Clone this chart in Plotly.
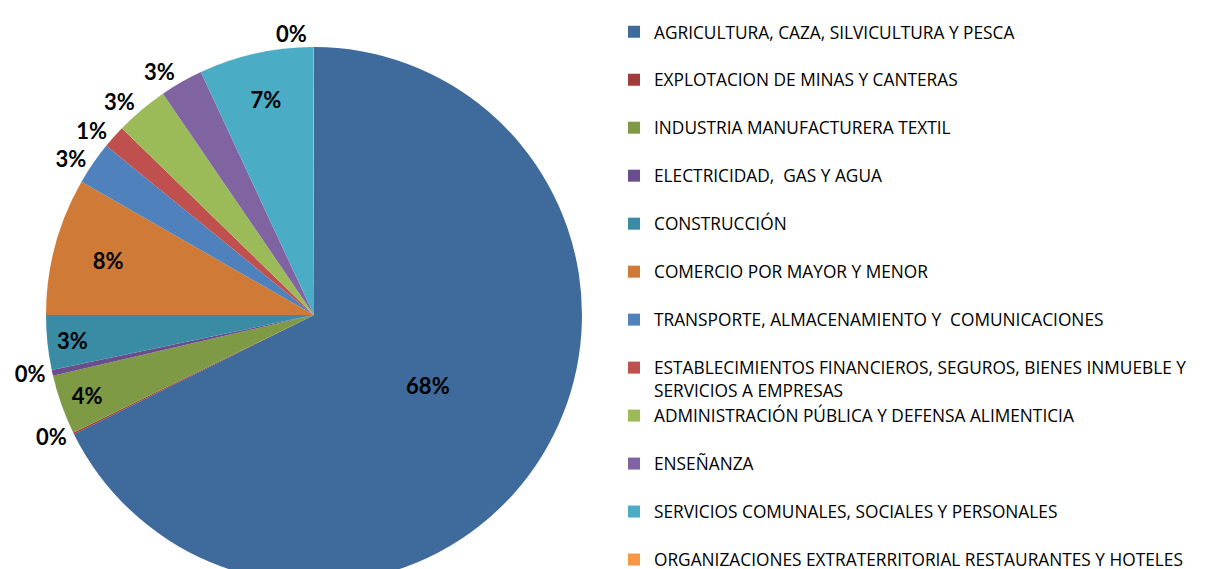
import plotly.graph_objects as go

categories = [
    "AGRICULTURA, CAZA, SILVICULTURA Y PESCA",
    "EXPLOTACION DE MINAS Y CANTERAS",
    "INDUSTRIA MANUFACTURERA TEXTIL",
    "ELECTRICIDAD,  GAS Y AGUA",
    "CONSTRUCCIÓN",
    "COMERCIO POR MAYOR Y MENOR",
    "TRANSPORTE, ALMACENAMIENTO Y  COMUNICACIONES",
    "ESTABLECIMIENTOS FINANCIEROS, SEGUROS, BIENES INMUEBLE Y<br>SERVICIOS A EMPRESAS",
    "ADMINISTRACIÓN PÚBLICA Y DEFENSA ALIMENTICIA",
    "ENSEÑANZA",
    "SERVICIOS COMUNALES, SOCIALES Y PERSONALES",
    "ORGANIZACIONES EXTRATERRITORIAL RESTAURANTES Y HOTELES",
]
values = [67.8, 0.1, 3.6, 0.35, 3.3, 8.3, 2.6, 1.4, 3.2, 2.6, 6.9, 0.05]
colors = ["#3F6A9C", "#A33B3A", "#7E9A45", "#694E8B", "#3A8CA4", "#CF7B37",
          "#4F81BD", "#C0504D", "#9BBB59", "#8064A2", "#4BACC6", "#F79646"]
text_positions = ["inside", "outside", "inside", "outside", "inside", "inside",
                  "outside", "outside", "outside", "outside", "inside", "outside"]

legend_labels = [c if "<br>" in c else c + "<br> " for c in categories]

W, H = 1230, 600
cx, cy, r = 314, 315, 268

fig = go.Figure(go.Pie(
    labels=legend_labels,
    values=values,
    sort=False,
    direction="clockwise",
    rotation=0,
    marker=dict(colors=colors, line=dict(width=0)),
    textinfo="percent",
    texttemplate="%{percent:.0%}",
    textposition=text_positions,
    textfont=dict(family="Lato", size=22, color="#000000", weight="bold"),
    insidetextorientation="horizontal",
    hoverinfo="label+percent",
    domain=dict(x=[(cx - r) / W, (cx + r) / W],
                y=[(H - (cy + r)) / H, (H - (cy - r)) / H]),
    automargin=False,
))

fig.update_layout(
    width=W, height=H,
    margin=dict(l=0, r=0, t=0, b=0),
    paper_bgcolor="white",
    plot_bgcolor="white",
    showlegend=True,
    legend=dict(
        x=614 / W, y=1 - 17 / H, xanchor="left", yanchor="top",
        font=dict(family="Open Sans", size=17.3, color="#000000"),
        valign="top",
        itemwidth=30,
        traceorder="normal",
    ),
)

fig.write_html(
    "out.html",
    config={"displayModeBar": False},
    post_script="document.body.style.margin='0';document.body.style.overflow='hidden';",
)
